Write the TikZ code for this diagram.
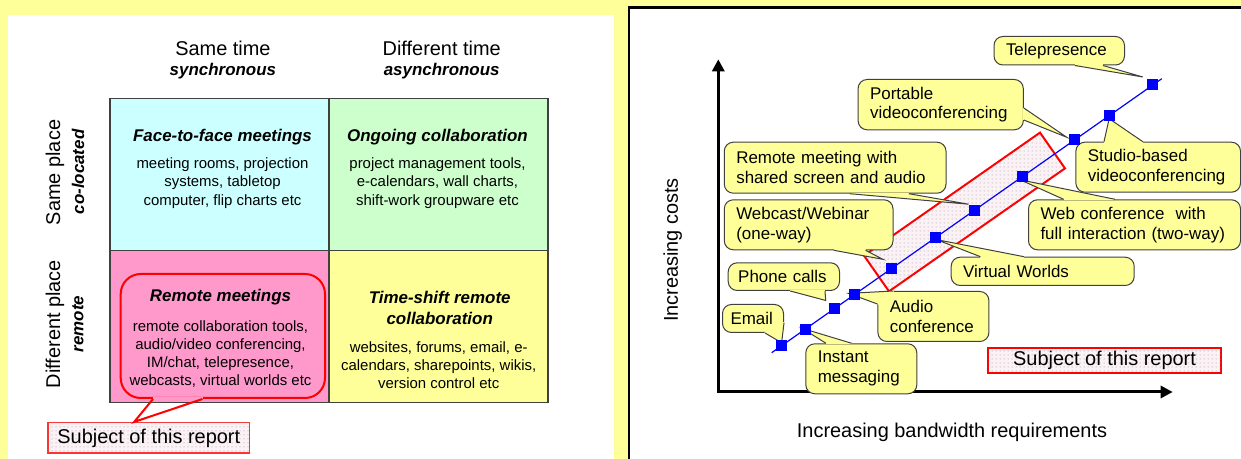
\documentclass[tikz,border=0pt]{standalone}
\usepackage{fontspec}
\setmainfont{Liberation Sans}
\usetikzlibrary{arrows.meta,calc,patterns.meta}
\definecolor{bgyel}{HTML}{FFFF99}
\definecolor{cellcy}{HTML}{CCFFFF}
\definecolor{cellgr}{HTML}{CCFFCC}
\definecolor{cellpk}{HTML}{FF99CC}
\definecolor{dotbg}{HTML}{FBF2F6}
\definecolor{dotfg}{HTML}{9A8A94}
\tikzset{
  txt/.style      = {inner sep=0pt, align=center},
  hdr/.style      = {txt, font=\fontsize{20}{24}\selectfont},
  hdr_bi/.style   = {txt, font=\fontsize{17}{20}\selectfont\bfseries\itshape},
  cell/.style     = {draw=black!75, line width=1.3bp, minimum width=219bp, minimum height=152bp, inner sep=0pt},
  cell_ttl/.style = {txt, font=\fontsize{17}{21}\selectfont\bfseries\itshape},
  cell_txt/.style = {txt, font=\fontsize{15}{18.3}\selectfont},
  dotted_fill/.style = {fill=dotbg, postaction={pattern={Dots[distance=4bp, radius=0.5bp]}, pattern color=dotfg}},
  subj/.style     = {dotted_fill, draw=red, line width=2bp, inner sep=0pt, font=\fontsize{20}{24}\selectfont},
  co_y/.style 2 args = {draw=black!75, line width=1bp, fill=bgyel, rounded corners=9bp, anchor=north west,
                        align=left, inner xsep=12bp, inner ysep=0pt, text width=#1bp, minimum height=#2bp,
                        font=\fontsize{17}{20}\selectfont},
  co_ln/.style    = {draw=black!75, line width=1bp},
  sq_b/.style     = {fill=blue, minimum size=11bp, inner sep=0pt},
  axis/.style     = {line width=3bp, {Triangle[length=12bp,width=12bp]}-{Triangle[length=12bp,width=12bp]}},
}
\newcommand{\cowedge}[3]{%
  \fill[bgyel] (#1) -- (#3) -- (#2) -- cycle;
  \draw[bgyel, line width=2.2bp] (#1) -- (#2);
  \draw[co_ln] (#1) -- (#3) -- (#2);
}

\begin{document}
\begin{tikzpicture}[x=1bp, y=-1bp]
  \useasboundingbox (0,0) rectangle (1241,459);
  \fill[bgyel] (0,0) rectangle (1241,459);
  \fill[white] (7.5,15.3) rectangle (614,480);
  \draw[line width=2.2bp, fill=white] (629,7.6) rectangle (1260,480);

  \node[hdr] (h_same) at (222.9,48) {Same time};
  \node[hdr_bi] (h_sync) at (222.9,71) {synchronous};
  \node[hdr] (h_diff) at (441.7,48) {Different time};
  \node[hdr_bi] (h_async) at (441.7,71) {asynchronous};
  \node[hdr, rotate=90] (r_same) at (55,172.5) {Same place};
  \node[hdr_bi, rotate=90] (r_coloc) at (78,172) {co-located};
  \node[hdr, rotate=90] (r_diff) at (55,324) {Different place};
  \node[hdr_bi, rotate=90] (r_remote) at (78,324) {remote};

  \node[cell, fill=cellcy] (c11) at (219.5,174.5) {};
  \node[cell, fill=cellgr] (c12) at (438.5,174.5) {};
  \node[cell, fill=cellpk] (c21) at (219.5,326.5) {};
  \node[cell, fill=bgyel] (c22) at (438.5,326.5) {};

  \node[subj, minimum width=201bp, minimum height=30.6bp, draw=red!80, line width=1.6bp] (subj_l) at (148.8,438) {Subject of this report};
  \node[draw=red, line width=2bp, rounded corners=20bp, minimum width=204.3bp, minimum height=124bp] (rm_box) at (222.85,336) {};
  \draw[cellpk, line width=3bp] ($(rm_box.south west)+(33.3,0)$) -- ($(rm_box.south west)+(82.8,0)$);
  \draw[red, line width=2bp] ($(rm_box.south west)+(33.3,0)$) -- ($(subj_l.north west)+(86.7,0)$) -- ($(rm_box.south west)+(82.8,0)$);

  \node[cell_ttl] (t11) at (222.5,137) {Face-to-face meetings};
  \node[cell_txt] (b11) at (222.5,183) {meeting rooms, projection\\systems, tabletop\\computer, flip charts etc};
  \node[cell_ttl] (t12) at (437.5,137) {Ongoing collaboration};
  \node[cell_txt] (b12) at (437.5,183) {project management tools,\\e-calendars, wall charts,\\shift-work groupware etc};
  \node[cell_ttl] (t21) at (220.5,297) {Remote meetings};
  \node[cell_txt] (b21) at (220.5,354) {remote collaboration tools,\\audio/video conferencing,\\IM/chat, telepresence,\\webcasts, virtual worlds etc};
  \node[cell_ttl] (t22) at (439.7,307.5) {Time-shift remote\\collaboration};
  \node[cell_txt] (b22) at (438.7,365) {websites, forums, email, e-\\calendars, sharepoints, wikis,\\version control etc};

  \node[hdr, rotate=90] (lbl_y) at (672.7,250) {Increasing costs};
  \node[hdr] (lbl_x) at (952,432) {Increasing bandwidth requirements};
  \coordinate (ax_o) at (718.3,392);
  \coordinate (ax_y) at (718.3,59.3);
  \coordinate (ax_x) at (1172.7,392);
  \draw[axis] (ax_y) -- (ax_o) -- (ax_x);

  \coordinate (ln_a) at (771.7,352.7);
  \coordinate (ln_b) at (1161.8,78.7);
  \path (ln_a) -- (ln_b)
    coordinate[pos=0.0254] (p_email)
    coordinate[pos=0.0854] (p_im)
    coordinate[pos=0.1615] (p_phone)
    coordinate[pos=0.211]  (p_audio)
    coordinate[pos=0.308]  (p_webcast)
    coordinate[pos=0.420]  (p_virtual)
    coordinate[pos=0.520]  (p_remote)
    coordinate[pos=0.642]  (p_webconf)
    coordinate[pos=0.777]  (p_port)
    coordinate[pos=0.865]  (p_studio)
    coordinate[pos=0.977]  (p_tele);

  \node[dotted_fill, draw=red, line width=2bp, rotate=34.95, minimum width=214.7bp, minimum height=43.6bp, inner sep=0pt] (band) at (964.5,212) {};

  \node[co_y={106.5}{28.5}] (c_tele) at (993.5,36) {Telepresence};
  \node[co_y={141.2}{50.3}] (c_port) at (857.6,79) {Portable\\videoconferencing};
  \node[co_y={140.6}{50}] (c_studio) at (1075.4,141.7) {Studio-based\\videoconferencing};
  \node[co_y={197.7}{51}] (c_remote) at (723.8,141.7) {Remote meeting with\\shared screen and audio};
  \node[co_y={188}{50}] (c_webconf) at (1028,199.3) {Web conference~ with\\full interaction (two-way)};
  \node[co_y={144.7}{50}] (c_webcast) at (723.8,199.3) {Webcast/Webinar\\(one-way)};
  \node[co_y={159}{28.3}] (c_virtual) at (950.7,256.7) {Virtual Worlds};
  \node[co_y={91.3}{27.7}, inner xsep=10bp] (c_phone) at (727.7,262.3) {Phone calls};
  \node[co_y={45}{28}, inner xsep=8bp] (c_email) at (722,304) {Email};
  \node[co_y={87}{50}] (c_im) at (805.3,343.3) {Instant\\messaging};
  \node[co_y={87}{50}] (c_audio) at (877.4,291) {Audio\\conference};

  \cowedge{$(c_tele.south west)+(81.5,0)$}{$(c_tele.south west)+(109.5,0)$}{$(p_tele)+(-10,-8)$}
  \cowedge{$(c_port.north east)+(0,29)$}{$(c_port.north east)+(0,41)$}{$(p_port)+(-8,-2.5)$}
  \cowedge{$(c_studio.north west)+(28.6,0)$}{$(c_studio.north west)+(67.4,0)$}{$(p_studio)+(0,3)$}
  \cowedge{$(c_remote.south west)+(126,0)$}{$(c_remote.south west)+(185,0)$}{$(p_remote)+(-6,-6)$}
  \cowedge{$(c_webconf.north west)+(35.6,0)$}{$(c_webconf.north west)+(87,0)$}{$(p_webconf)+(-2,3)$}
  \cowedge{$(c_webcast.south west)+(110,0)$}{$(c_webcast.south west)+(141.7,0)$}{$(p_webcast)+(-9,-9)$}
  \cowedge{$(c_virtual.north west)+(29.7,0)$}{$(c_virtual.north west)+(73.3,0)$}{$(p_virtual)+(1,2)$}
  \cowedge{$(c_phone.south west)+(62.6,0)$}{$(c_phone.south west)+(97.3,0)$}{$(p_phone)+(-9,-8)$}
  \cowedge{$(c_email.south west)+(43,0)$}{$(c_email.south east)+(0,-10)$}{$(p_email)+(0,-3)$}
  \cowedge{$(c_im.north west)+(20.7,0)$}{$(c_im.north west)+(46.4,0)$}{$(p_im)+(-3,-1)$}
  \cowedge{$(c_audio.north west)+(0,13)$}{$(c_audio.north west)+(16,0)$}{$(p_audio)+(-5.5,-1.5)$}

  \draw[blue, line width=1.2bp] (ln_a) -- (ln_b);
  \foreach \n in {email,im,phone,audio,webcast,virtual,remote,webconf,port,studio,tele}
    \node[sq_b] (sq_\n) at (p_\n) {};

  \node[subj, minimum width=232.4bp, minimum height=25bp] (subj_r) at (1104.5,360.8) {Subject of this report};
\end{tikzpicture}
\end{document}
